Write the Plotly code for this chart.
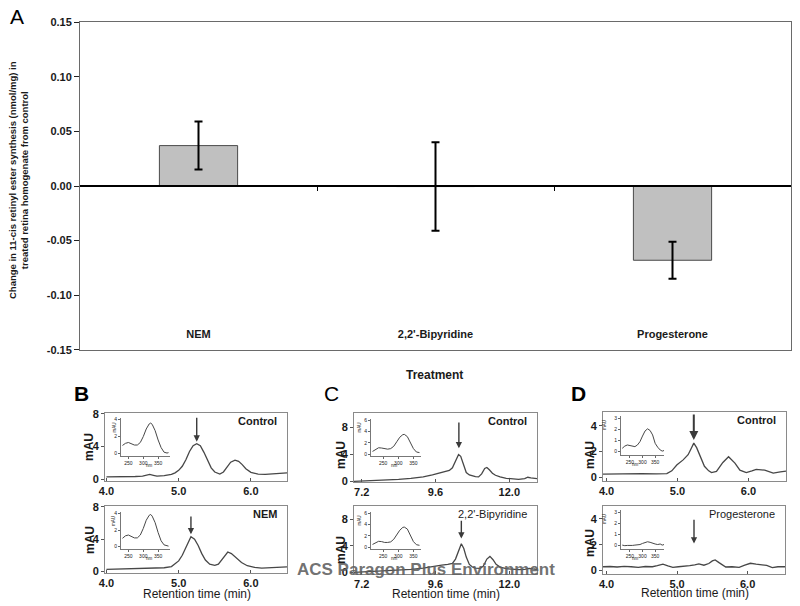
import plotly.graph_objects as go

# ---------------- data ----------------
treatments = ["NEM", "2,2'-Bipyridine", "Progesterone"]
change_mean = [0.037, -0.0005, -0.068]
change_err = [0.022, 0.0405, 0.017]
a_tickvals = [0.15, 0.10, 0.05, 0.00, -0.05, -0.10, -0.15]
a_ticktext = ["0.15", "0.10", "0.05", "0.00", "-0.05", "-0.10", "-0.15"]

# Panel B (retention time, min ; absorbance, mAU)
b_ctrl_t = [4.0, 4.1, 4.2, 4.3, 4.4, 4.5, 4.55, 4.6, 4.65, 4.7, 4.8, 4.9, 4.95, 5.0, 5.05, 5.1, 5.15, 5.2, 5.25,
            5.3, 5.35, 5.4, 5.45, 5.5, 5.57, 5.62, 5.67, 5.72, 5.78, 5.83, 5.88, 5.93, 6.0, 6.1, 6.2, 6.3, 6.4, 6.5]
b_ctrl_mau = [0.3, 0.3, 0.32, 0.35, 0.35, 0.4, 0.5, 0.6, 0.5, 0.4, 0.45, 0.6, 0.8, 1.1, 1.6, 2.4, 3.4, 4.1, 4.35,
              4.1, 3.3, 2.3, 1.4, 0.9, 0.65, 0.9, 1.5, 2.1, 2.35, 2.2, 1.8, 1.3, 0.85, 0.65, 0.6, 0.65, 0.75, 0.8]
b_nem_t = [4.0, 4.2, 4.4, 4.6, 4.8, 4.9, 4.95, 5.0, 5.05, 5.1, 5.15, 5.17, 5.22, 5.27, 5.32, 5.37, 5.43, 5.5,
           5.55, 5.6, 5.65, 5.68, 5.73, 5.8, 5.87, 5.95, 6.05, 6.15, 6.25, 6.35, 6.5]
b_nem_mau = [0.25, 0.3, 0.35, 0.4, 0.45, 0.6, 0.9, 1.3, 2.0, 3.0, 4.0, 4.3, 4.0, 3.2, 2.2, 1.4, 0.9, 0.75,
             0.9, 1.5, 2.1, 2.4, 2.2, 1.7, 1.1, 0.7, 0.5, 0.4, 0.45, 0.5, 0.55]

# Panel C
c_ctrl_t = [6.95, 7.2, 7.6, 8.0, 8.4, 8.8, 9.2, 9.5, 9.7, 9.85, 9.95, 10.05, 10.15, 10.25, 10.35, 10.42, 10.5,
            10.6, 10.7, 10.8, 10.9, 11.0, 11.1, 11.2, 11.27, 11.35, 11.45, 11.55, 11.7, 11.9, 12.1, 12.3, 12.5,
            12.6, 12.7, 12.8, 12.9]
c_ctrl_mau = [0.0, 0.05, 0.1, 0.2, 0.3, 0.45, 0.65, 0.95, 1.2, 1.35, 1.4, 1.6, 2.0, 3.0, 3.95, 3.7, 2.7,
              1.3, 0.95, 0.8, 0.7, 0.65, 1.1, 1.9, 2.05, 1.7, 1.2, 0.9, 0.65, 0.45, 0.35, 0.3, 0.4,
              0.6, 0.5, 0.4, 0.4]
c_bipy_t = [6.95, 7.2, 7.6, 8.0, 8.4, 8.8, 9.2, 9.5, 9.8, 10.0, 10.15, 10.25, 10.35, 10.44, 10.52, 10.6, 10.7,
            10.8, 10.9, 11.05, 11.15, 11.27, 11.37, 11.47, 11.57, 11.7, 11.9, 12.1, 12.3, 12.5, 12.65, 12.8, 12.9]
c_bipy_mau = [0.0, 0.05, 0.1, 0.2, 0.3, 0.45, 0.65, 0.9, 1.1, 1.2, 1.35, 2.0, 3.3, 4.3, 3.6, 2.3, 1.2,
              0.8, 0.65, 0.6, 0.9, 2.0, 2.4, 1.9, 1.2, 0.8, 0.55, 0.45, 0.4, 0.45, 0.6, 0.5, 0.45]

# Panel D
d_ctrl_t = [3.95, 4.1, 4.3, 4.5, 4.7, 4.85, 4.92, 4.99, 5.08, 5.15, 5.19, 5.23, 5.27, 5.31, 5.38, 5.44, 5.48,
            5.55, 5.64, 5.72, 5.81, 5.88, 5.97, 6.05, 6.11, 6.23, 6.35, 6.45, 6.53]
d_ctrl_mau = [0.25, 0.27, 0.25, 0.28, 0.26, 0.28, 0.5, 0.95, 1.35, 1.75, 2.2, 2.65, 2.3, 1.75, 0.85, 0.5, 0.36,
              0.45, 1.15, 1.6, 1.1, 0.55, 0.36, 0.5, 0.62, 0.55, 0.32, 0.42, 0.48]
d_prog_t = [3.95, 4.05, 4.15, 4.25, 4.35, 4.45, 4.55, 4.65, 4.72, 4.8, 4.87, 4.94, 5.02, 5.1, 5.18, 5.25, 5.31,
            5.38, 5.45, 5.5, 5.54, 5.6, 5.69, 5.78, 5.88, 5.96, 6.04, 6.12, 6.2, 6.27, 6.35, 6.43, 6.53]
d_prog_mau = [0.3, 0.32, 0.28, 0.33, 0.3, 0.26, 0.32, 0.3, 0.38, 0.5, 0.36, 0.26, 0.3, 0.32, 0.38, 0.45, 0.52,
              0.42, 0.55, 0.75, 0.83, 0.6, 0.28, 0.3, 0.26, 0.42, 0.57, 0.5, 0.45, 0.4, 0.23, 0.3, 0.3]

# UV spectra insets (wavelength nm ; mAU)
b_spec_nm = [230, 240, 250, 260, 270, 280, 290, 300, 310, 320, 325, 330, 340, 350, 360, 370, 380, 385]
b_ctrl_spec = [0.95, 1.2, 1.3, 1.15, 1.0, 1.0, 1.3, 2.0, 2.9, 3.5, 3.6, 3.45, 2.7, 1.6, 0.7, 0.15, 0.05, 0.1]
b_nem_spec = [1.0, 1.3, 1.4, 1.2, 1.05, 1.05, 1.4, 2.2, 3.2, 3.8, 3.9, 3.7, 2.9, 1.7, 0.7, 0.2, 0.05, 0.05]
c_spec_nm = [215, 225, 235, 245, 255, 265, 275, 285, 295, 305, 315, 320, 330, 340, 350, 360, 370]
c_ctrl_spec = [0.5, 0.9, 1.15, 1.1, 0.95, 0.9, 1.0, 1.4, 2.2, 3.0, 3.45, 3.5, 3.1, 2.0, 1.0, 0.4, 0.3]
c_bipy_spec = [0.5, 0.8, 1.05, 1.0, 0.85, 0.85, 0.95, 1.4, 2.2, 3.0, 3.5, 3.55, 3.2, 2.1, 1.0, 0.45, 0.35]
d_spec_nm = [220, 230, 240, 250, 260, 270, 280, 290, 300, 310, 320, 330, 340, 350, 360, 370, 378, 385]
d_ctrl_spec = [0.3, 0.5, 0.6, 0.55, 0.45, 0.45, 0.6, 0.9, 1.4, 1.85, 2.05, 1.9, 1.5, 0.75, 0.4, 0.15, 0.05, 0.1]
d_prog_spec = [0.05, 0.0, 0.02, 0.0, 0.02, 0.05, 0.05, 0.1, 0.2, 0.3, 0.35, 0.3, 0.2, 0.15, 0.1, 0.15, 0.05, 0.1]

# Arrow positions (retention time, start mAU, tip mAU)
arrow_t = [5.25, 5.17, 10.36, 10.44, 5.23, 5.24]
arrow_start = [7.7, 7.0, 8.9, 8.0, 5.0, 4.05]
arrow_tip = [4.6, 4.6, 4.9, 5.1, 2.9, 2.1]
panel_tags = ["Control", "NEM", "Control", "2,2'-Bipyridine", "Control", "Progesterone"]

# ---------------- layout helpers ----------------
W, H = 800, 606
FONT = "Liberation Sans, Arial, sans-serif"
LINE = "#474747"


def dx(a, b):
    return [a / W, b / W]


def dy(top, bottom):
    return [1 - bottom / H, 1 - top / H]


def fnt(size, bold=False, color="#1a1a1a"):
    d = dict(family=FONT, size=size, color=color)
    if bold:
        d["weight"] = "bold"
    return d


fig = go.Figure()
layout = dict(
    width=W, height=H, margin=dict(l=0, r=0, t=0, b=0),
    paper_bgcolor="white", plot_bgcolor="rgba(0,0,0,0)",
    showlegend=False, font=fnt(11),
)

# ---------------- Panel A ----------------
fig.add_trace(go.Bar(
    x=treatments, y=change_mean, width=0.33, xaxis="x", yaxis="y",
    marker=dict(color="#c0c0c0", line=dict(color="#4a4a4a", width=1)),
    error_y=dict(type="data", array=change_err, color="black", thickness=2, width=4),
))
# empty trace so that the zero-level axis (ticks at category boundaries) is drawn
fig.add_trace(go.Scatter(x=[], y=[], xaxis="x14", yaxis="y", hoverinfo="skip"))
a_dom = dy(22, 350)
layout["xaxis"] = dict(domain=dx(80, 791), anchor="y", range=[-0.5, 2.5], type="category",
                       showline=True, mirror=True, linecolor="#6a6a6a", linewidth=1, ticks="",
                       ticklabelposition="outside", ticklabelstandoff=-26, tickfont=fnt(11, True),
                       showgrid=False, zeroline=False, automargin=False)
layout["yaxis"] = dict(domain=a_dom, anchor="x", range=[-0.1502, 0.1502], tickvals=a_tickvals,
                       ticktext=a_ticktext, ticks="outside", ticklen=5, tickcolor="#222",
                       showline=True, mirror=True, linecolor="#6a6a6a", linewidth=1,
                       tickfont=fnt(11, True), showgrid=False, zeroline=True, zerolinecolor="black",
                       zerolinewidth=1.5, automargin=False)
layout["xaxis14"] = dict(overlaying="x", anchor="free", position=(a_dom[0] + a_dom[1]) / 2,
                         range=[-0.5, 2.5], tickvals=[0.5, 1.5], showticklabels=False, ticks="outside",
                         ticklen=4, tickcolor="black", showline=True, linecolor="black", linewidth=1.5,
                         showgrid=False, zeroline=False, automargin=False)

# ---------------- chromatogram panels ----------------
panels = [
    # (t, mau, xdom, ydom, xrange, yrange, xticks, yticks)
    (b_ctrl_t, b_ctrl_mau, dx(105, 287), dy(413, 481), [3.98, 6.5], [-0.2, 8.1], [4.0, 5.0, 6.0], [0, 4, 8]),
    (b_nem_t, b_nem_mau, dx(105, 287), dy(506, 573), [3.98, 6.5], [-0.2, 8.1], [4.0, 5.0, 6.0], [0, 4, 8]),
    (c_ctrl_t, c_ctrl_mau, dx(354, 537), dy(413, 482), [6.95, 12.9], [-0.1, 10.1], [7.2, 9.6, 12.0], [0, 4, 8]),
    (c_bipy_t, c_bipy_mau, dx(354, 537), dy(506, 574), [6.95, 12.9], [-0.25, 10.0], [7.2, 9.6, 12.0], [0, 4, 8]),
    (d_ctrl_t, d_ctrl_mau, dx(603, 786), dy(412, 481), [3.95, 6.53], [-0.29, 5.07], [4.0, 5.0, 6.0], [0, 2, 4]),
    (d_prog_t, d_prog_mau, dx(603, 785), dy(506, 574), [3.95, 6.53], [-0.26, 5.0], [4.0, 5.0, 6.0], [0, 2, 4]),
]
annotations = []
for i, (t, m, xd, yd, xr, yr, xt, yt) in enumerate(panels):
    n = i + 2
    xa, ya = f"x{n}", f"y{n}"
    fig.add_trace(go.Scatter(x=t, y=m, mode="lines", xaxis=xa, yaxis=ya,
                             line=dict(color=LINE, width=1.3)))
    layout[f"xaxis{n}"] = dict(domain=xd, anchor=ya, range=xr, tickvals=xt, tickformat=".1f",
                               ticks="inside", ticklen=3, tickcolor="#555", showline=True, mirror=True,
                               linecolor="#8a8a8a", linewidth=1, tickfont=fnt(11, True),
                               showgrid=False, zeroline=False, automargin=False)
    layout[f"yaxis{n}"] = dict(domain=yd, anchor=xa, range=yr, tickvals=yt, ticks="outside", ticklen=3,
                               tickcolor="#555", showline=True, mirror=True, linecolor="#8a8a8a",
                               linewidth=1, tickfont=fnt(11, True), showgrid=False, zeroline=False,
                               automargin=False)
    annotations.append(dict(x=arrow_t[i], y=arrow_tip[i], ax=arrow_t[i], ay=arrow_start[i],
                            xref=xa, yref=ya, axref=xa, ayref=ya, text="", showarrow=True,
                            arrowhead=2, arrowsize=0.9, arrowwidth=1.4 if i != 4 else 2,
                            arrowcolor="#3a3a3a"))
    annotations.append(dict(x=xd[1] - 8 / W, y=yd[1] - 8 / H, xref="paper", yref="paper",
                            xanchor="right", yanchor="middle", text=panel_tags[i], showarrow=False,
                            font=fnt(11, panel_tags[i] in ("Control", "NEM"))))

# ---------------- inset spectra ----------------
insets = [
    (b_spec_nm, b_ctrl_spec, dx(121, 170), dy(418, 456), [225, 390], [-0.3, 4.2], [0, 2, 4]),
    (b_spec_nm, b_nem_spec, dx(121, 170), dy(512, 549), [225, 390], [-0.3, 4.2], [0, 2, 4]),
    (c_spec_nm, c_ctrl_spec, dx(371, 421), dy(419, 456), [210, 375], [-0.3, 6.2], [0, 2, 4, 6]),
    (c_spec_nm, c_bipy_spec, dx(371, 421), dy(512, 549), [210, 375], [-0.3, 6.2], [0, 2, 4, 6]),
    (d_spec_nm, d_ctrl_spec, dx(621, 664), dy(416, 455), [215, 385], [-0.3, 3.2], [0, 1, 2, 3]),
    (d_spec_nm, d_prog_spec, dx(621, 664), dy(510, 549), [215, 385], [-0.3, 3.2], [0, 1, 2, 3]),
]
for j, (nm, s, xd, yd, xr, yr, yt) in enumerate(insets):
    n = j + 8
    xa, ya = f"x{n}", f"y{n}"
    fig.add_trace(go.Scatter(x=nm, y=s, mode="lines", xaxis=xa, yaxis=ya,
                             line=dict(color=LINE, width=1)))
    layout[f"xaxis{n}"] = dict(domain=xd, anchor=ya, range=xr, tickvals=[250, 300, 350], ticks="outside",
                               ticklen=2, tickcolor="#666", showline=True, linecolor="#777", linewidth=1,
                               tickangle=0, tickfont=fnt(5), showgrid=False, zeroline=False,
                               automargin=False)
    layout[f"yaxis{n}"] = dict(domain=yd, anchor=xa, range=yr, tickvals=yt, ticks="outside", ticklen=2,
                               tickcolor="#666", showline=True, linecolor="#777", linewidth=1,
                               tickfont=fnt(5), showgrid=False, zeroline=False, automargin=False)
    annotations.append(dict(x=xd[0] - 12 / W, y=(yd[0] + yd[1]) / 2 + 3 / H, xref="paper", yref="paper",
                            text="mAU", textangle=-90, showarrow=False, font=fnt(4.5)))
    annotations.append(dict(x=(xd[0] + xd[1]) / 2 - 2 / W, y=yd[0] - 14 / H, xref="paper", yref="paper",
                            text="nm", showarrow=False, font=fnt(4.5)))

# ---------------- text ----------------
def txt(x, y, s, font, angle=0, xanchor="center"):
    annotations.append(dict(x=x / W, y=1 - y / H, xref="paper", yref="paper", text=s, showarrow=False,
                            textangle=angle, font=font, xanchor=xanchor, yanchor="middle"))


txt(8, 17, "A", fnt(21, False, "black"), xanchor="left")
txt(72, 393, "B", fnt(21, True, "black"), xanchor="left")
txt(322, 393, "C", fnt(21, False, "black"), xanchor="left")
txt(569, 393, "D", fnt(21, True, "black"), xanchor="left")
txt(18, 180, "Change in 11-cis retinyl ester synthesis (nmol/mg) in<br>treated retina homogenate from control",
    fnt(9.5, True), angle=-90)
txt(435, 375, "Treatment", fnt(12, True))
for xm, ym in [(89, 447), (90, 540), (341, 455), (341, 550), (590, 455), (590, 543)]:
    txt(xm, ym, "mAU", fnt(12, True), angle=-90)
for xr_, yr_ in [(197, 594), (446, 594), (695, 593)]:
    txt(xr_, yr_, "Retention time (min)", fnt(12))
txt(426, 569, "ACS Paragon Plus Environment", fnt(17, True, "rgba(95,95,95,0.9)"))

layout["annotations"] = annotations
fig.update_layout(**layout)
fig.write_html("out.html", config={"displayModeBar": False},
               post_script="document.body.style.margin='0';document.body.style.overflow='hidden';")
